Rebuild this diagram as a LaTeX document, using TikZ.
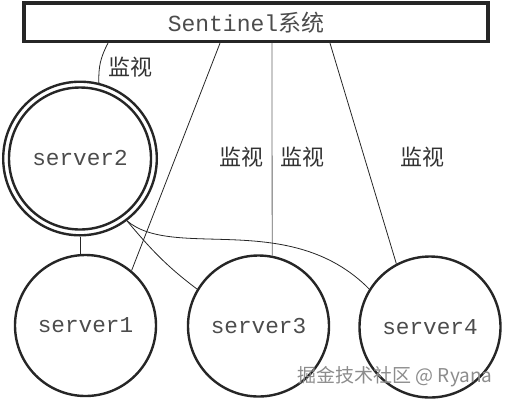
\documentclass[tikz,border=0pt]{standalone}
\usepackage{fontspec}
\setmainfont{Liberation Serif}
\setmonofont{Liberation Mono}
\newfontfamily\cjk{Noto Sans CJK SC}
\begin{document}
\begin{tikzpicture}[x=1pt,y=-1pt,
  srv/.style={circle, draw=black!85, line width=2.4pt, inner sep=0pt, minimum size=141pt, font=\fontsize{22.7}{24}\selectfont\ttfamily, text=black!70},
  conn/.style={line width=0.8pt, draw=black!85},
  lbl/.style={font=\fontsize{22}{24}\selectfont\cjk, text=black!80, inner sep=0pt},
  titlebox/.style={draw=black!85, fill=white, line width=3.2pt, minimum width=464pt, minimum height=38.5pt, inner sep=0pt},
]
\useasboundingbox (0,0) rectangle (505,400);
\node[titlebox] (sent) at (256,22.3) {};
\node[font=\fontsize{23}{25}\selectfont, text=black!70, inner sep=0pt] (title) at (246,22.5) {\ttfamily Sentinel\cjk 系统};

\node[srv, minimum size=153.6pt] (s2) at (80,158.5) {server2};
\draw[line width=2.4pt, draw=black!85] (s2.center) circle[radius=71];
\node[srv] (s1) at (85.5,325.5) {server1};
\node[srv] (s3) at (258.5,326) {server3};
\node[srv] (s4) at (430,327) {server4};

\draw[conn] ([xshift=-148pt]sent.south) to[bend right=15] (s2.76);
\draw[conn] ([xshift=-36pt]sent.south) -- (s1.50);
\draw[conn, draw=black!60] ([xshift=16pt]sent.south) -- (s3.79);
\draw[conn] ([xshift=74pt]sent.south) -- (s4.118);
\draw[conn] (s2.south) -- (s2.south |- s1.north);
\draw[conn] (s2.-53) to[out=-50,in=143] (s3.149);
\draw[conn] (s2.-53) .. controls +(47,40) and +(-79,-80) .. (s4.148);

\node[lbl] (m1) at (130,67) {监视};
\node[lbl] (m2) at (241,157) {监视};
\node[lbl] (m3) at (302,157) {监视};
\node[lbl] (m4) at (422,157) {监视};

\node[font=\fontsize{19}{21}\selectfont\cjk, text=black!45, inner sep=0pt] (wm) at (395,377) {掘金技术社区 @ Ryana};
\end{tikzpicture}
\end{document}
